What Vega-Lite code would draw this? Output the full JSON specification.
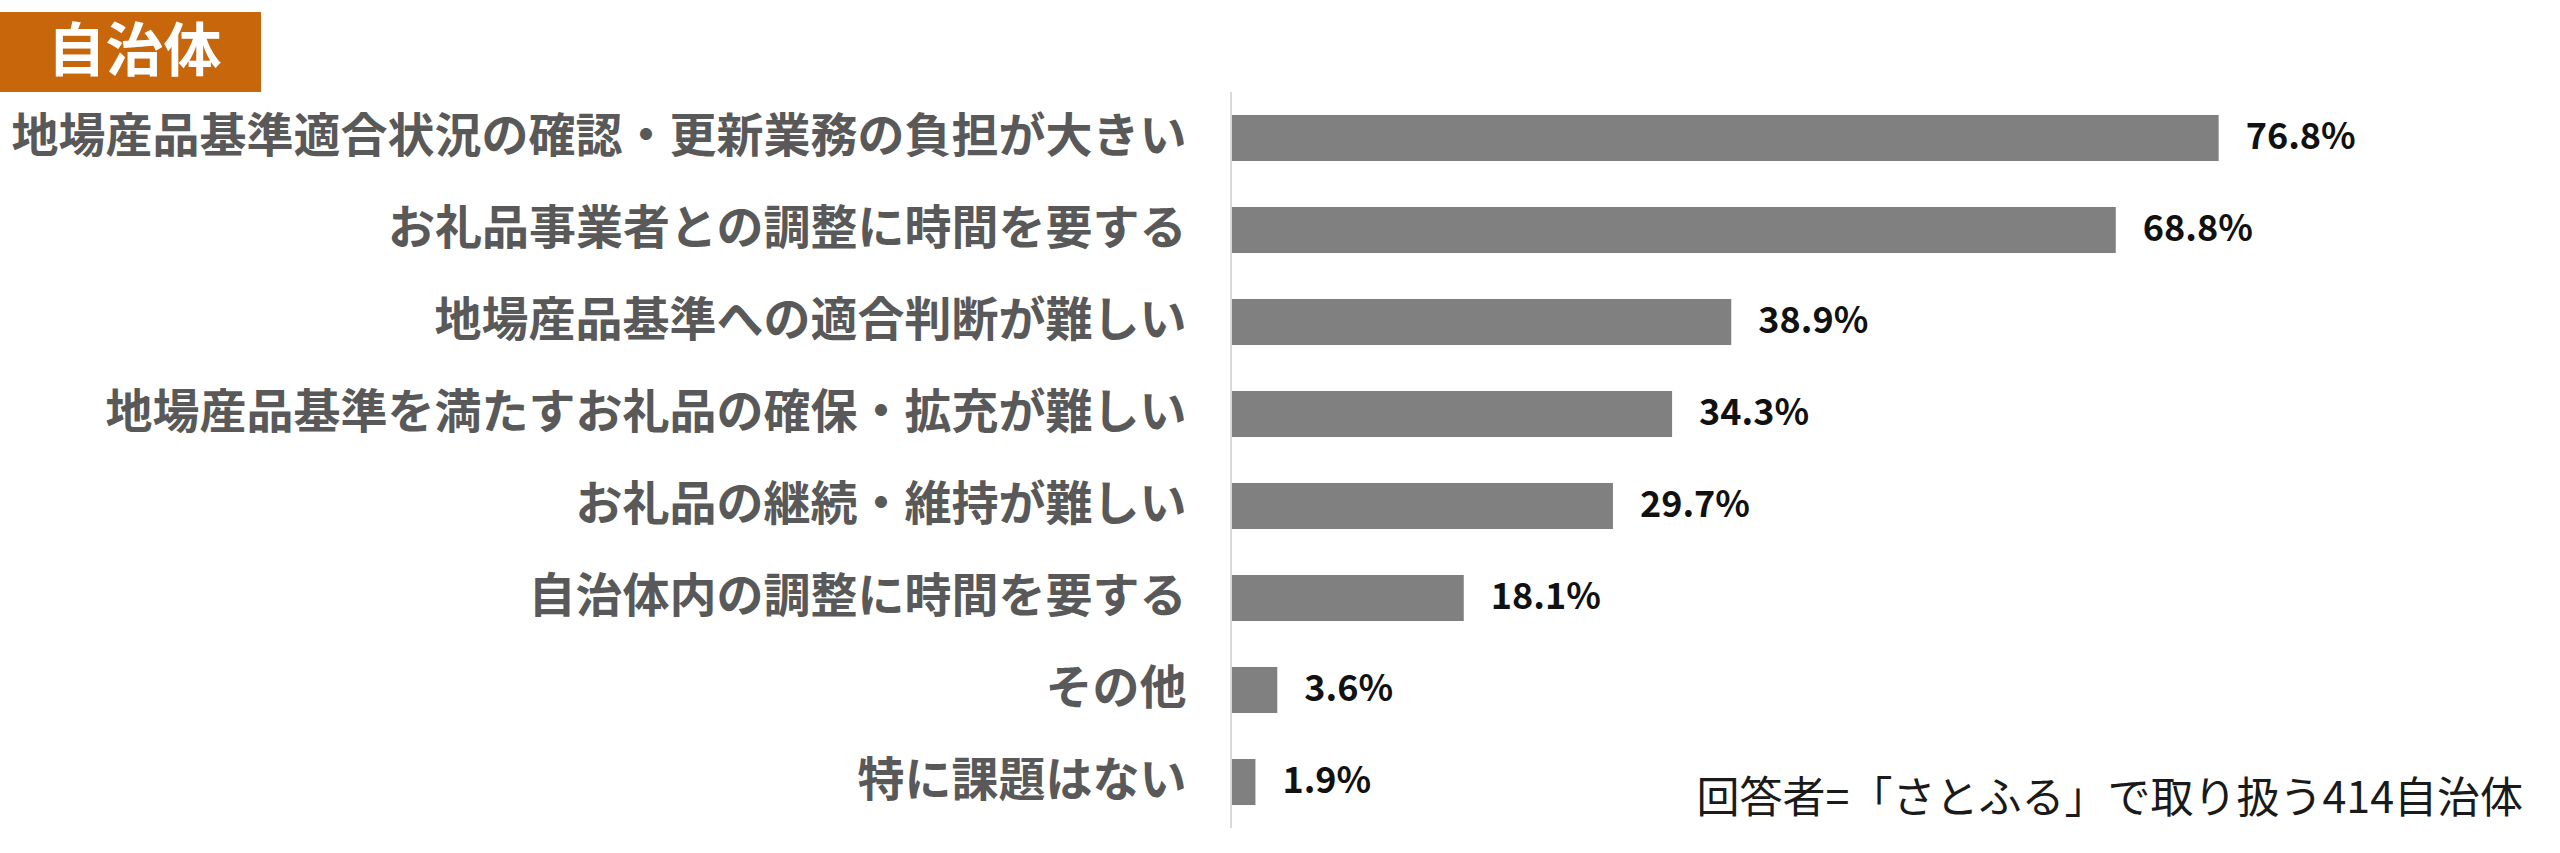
{
  "$schema": "https://vega.github.io/schema/vega-lite/v6.json",
  "padding": {"top": 12, "left": 0, "right": 0, "bottom": 0},
  "spacing": 970,
  "columns": 2,
  "align": "none",
  "bounds": "flush",
  "background": "white",
  "config": {"view": {"stroke": null}, "font": "Noto Sans CJK JP"},
  "concat": [
    {
      "width": 261,
      "height": 80,
      "view": {"fill": "#C8660C", "stroke": null},
      "data": {"values": [{"t": "自治体"}]},
      "mark": {"type": "text", "font": "Noto Sans CJK JP", "fontSize": 58, "fontWeight": "bold", "color": "white", "align": "center", "baseline": "middle", "dx": 4, "dy": 2},
      "encoding": {"text": {"field": "t"}}
    },
    {
      "width": 1286,
      "height": 816,
      "layer": [
        {
          "data": {"values": [
            {"cat": "地場産品基準適合状況の確認・更新業務の負担が大きい", "v": 0.768},
            {"cat": "お礼品事業者との調整に時間を要する", "v": 0.688},
            {"cat": "地場産品基準への適合判断が難しい", "v": 0.389},
            {"cat": "地場産品基準を満たすお礼品の確保・拡充が難しい", "v": 0.343},
            {"cat": "お礼品の継続・維持が難しい", "v": 0.297},
            {"cat": "自治体内の調整に時間を要する", "v": 0.181},
            {"cat": "その他", "v": 0.036},
            {"cat": "特に課題はない", "v": 0.019}
          ]},
          "layer": [
            {
              "mark": {"type": "bar", "color": "#808080"},
              "encoding": {
                "x": {"field": "v", "type": "quantitative", "scale": {"domain": [0, 1]}, "axis": null},
                "y": {
                  "field": "cat", "type": "nominal",
                  "sort": ["地場産品基準適合状況の確認・更新業務の負担が大きい", "お礼品事業者との調整に時間を要する", "地場産品基準への適合判断が難しい", "地場産品基準を満たすお礼品の確保・拡充が難しい", "お礼品の継続・維持が難しい", "自治体内の調整に時間を要する", "その他", "特に課題はない"],
                  "scale": {"paddingInner": 0.5, "paddingOuter": 0.6848, "align": 0.8175},
                  "axis": {
                    "title": null, "ticks": false, "tickSize": 0, "domain": false,
                    "labelFont": "Noto Sans CJK JP", "labelFontSize": 47, "labelFontWeight": "bold", "labelColor": "#595959",
                    "labelPadding": 45, "labelLimit": 3000, "minExtent": 1231
                  }
                }
              }
            },
            {
              "mark": {"type": "bar", "height": {"band": 2}, "stroke": "#D9D9D9", "strokeWidth": 2, "fill": "#D9D9D9"},
              "encoding": {
                "x": {"datum": 0, "type": "quantitative"},
                "x2": {"datum": 0},
                "y": {"field": "cat", "type": "nominal", "sort": ["地場産品基準適合状況の確認・更新業務の負担が大きい", "お礼品事業者との調整に時間を要する", "地場産品基準への適合判断が難しい", "地場産品基準を満たすお礼品の確保・拡充が難しい", "お礼品の継続・維持が難しい", "自治体内の調整に時間を要する", "その他", "特に課題はない"]}
              }
            },
            {
              "mark": {"type": "text", "align": "left", "baseline": "middle", "dx": 27, "font": "Noto Sans CJK JP", "fontSize": 36, "fontWeight": "bold", "color": "#111111"},
              "encoding": {
                "x": {"field": "v", "type": "quantitative"},
                "y": {"field": "cat", "type": "nominal", "sort": ["地場産品基準適合状況の確認・更新業務の負担が大きい", "お礼品事業者との調整に時間を要する", "地場産品基準への適合判断が難しい", "地場産品基準を満たすお礼品の確保・拡充が難しい", "お礼品の継続・維持が難しい", "自治体内の調整に時間を要する", "その他", "特に課題はない"]},
                "text": {"field": "v", "type": "quantitative", "format": ".1%"}
              }
            }
          ]
        },
        {
          "data": {"values": [{"cat": "特に課題はない", "v": 1, "note": "回答者=「さとふる」で取り扱う414自治体"}]},
          "mark": {"type": "text", "align": "right", "baseline": "middle", "dx": 6, "dy": 18, "font": "Noto Sans CJK JP", "fontSize": 43, "fontWeight": "normal", "color": "#1a1a1a"},
          "encoding": {
            "x": {"field": "v", "type": "quantitative"},
            "y": {"field": "cat", "type": "nominal", "sort": ["地場産品基準適合状況の確認・更新業務の負担が大きい", "お礼品事業者との調整に時間を要する", "地場産品基準への適合判断が難しい", "地場産品基準を満たすお礼品の確保・拡充が難しい", "お礼品の継続・維持が難しい", "自治体内の調整に時間を要する", "その他", "特に課題はない"]},
            "text": {"field": "note"}
          }
        }
      ]
    }
  ]
}
